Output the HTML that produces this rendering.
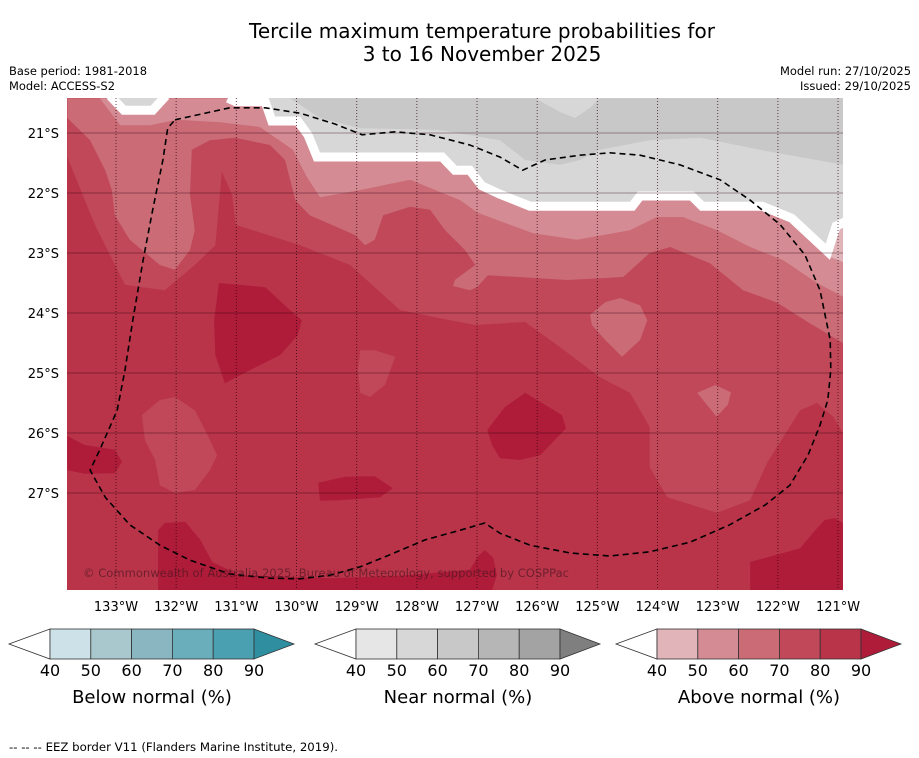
<!DOCTYPE html>
<html><head><meta charset="utf-8"><style>
html,body{margin:0;padding:0;background:#fff;}
svg{display:block;font-family:"DejaVu Sans","Liberation Sans",sans-serif;}
</style></head><body>
<svg id="c" width="919" height="758" viewBox="0 0 919 758">
<rect width="919" height="758" fill="#fff"/>
<text x="482" y="38" font-size="20" text-anchor="middle">Tercile maximum temperature probabilities for</text>
<text x="482" y="61" font-size="20" text-anchor="middle">3 to 16 November 2025</text>
<text x="9" y="75" font-size="11.6" textLength="138" lengthAdjust="spacingAndGlyphs">Base period: 1981-2018</text>
<text x="9" y="90" font-size="11.6" textLength="106" lengthAdjust="spacingAndGlyphs">Model: ACCESS-S2</text>
<text x="780" y="75" font-size="11.6" textLength="131" lengthAdjust="spacingAndGlyphs">Model run: 27/10/2025</text>
<text x="800" y="90" font-size="11.6" textLength="111" lengthAdjust="spacingAndGlyphs">Issued: 29/10/2025</text>
<defs><clipPath id="mapclip"><rect x="67" y="98" width="776" height="492"/></clipPath></defs>
<g id="map" clip-path="url(#mapclip)"></g>
<g id="axes"></g>
<g id="legends"></g>
<text x="9" y="751" font-size="11.6" textLength="329" lengthAdjust="spacingAndGlyphs">--  --  -- EEZ border V11 (Flanders Marine Institute, 2019).</text>
</svg>
<script>
const lonTicks=[133,132,131,130,129,128,127,126,125,124,123,122,121];
const latTicks=[21,22,23,24,25,26,27];
const legendTicks=[40,50,60,70,80,90];
const belowColors=["#cde2e8","#a8c8cd","#8ab6c2","#6aadbb","#4a9fb0","#2f8ea0"];
const nearColors=["#e6e6e6","#d7d7d7","#c8c8c8","#b6b6b6","#a3a3a3","#7f7f7f"];
const aboveColors=["#e0b4b9","#d58b93","#ca6b76","#c04858","#b93449","#ae1c39"];
// contour polygons [lonW, latS]
const above7080=[[133.81,21.40],[133.35,22.53],[132.85,23.53],[132.19,23.62],[131.69,23.20],[131.35,22.87],[131.24,21.65],[131.07,22.03],[131.01,22.53],[129.94,22.87],[129.11,23.20],[128.28,23.95],[127.45,24.12],[127.03,24.20],[126.20,24.15],[125.62,24.57],[124.96,25.07],[124.46,25.33],[124.13,25.90],[124.13,26.57],[123.84,27.07],[123.01,27.33],[122.46,27.12],[122.18,26.50],[121.63,25.62],[121.35,25.50],[121.08,25.73],[120.92,26.00],[120.92,20.42],[133.81,20.42]];
const above7080IslandA=[[132.27,25.45],[132.02,25.40],[131.69,25.62],[131.52,25.95],[131.32,26.37],[131.44,26.62],[131.69,26.95],[132.02,27.00],[132.27,26.87],[132.35,26.45],[132.52,26.12],[132.57,25.70]];
const above7080IslandB=[[128.94,24.62],[128.70,24.62],[128.36,24.73],[128.53,25.20],[128.78,25.40],[128.94,25.33],[128.98,24.95]];
const above6070=[[133.81,20.75],[133.43,21.12],[133.18,21.62],[133.07,21.95],[133.02,22.37],[132.77,22.78],[132.27,23.20],[132.02,23.28],[131.77,22.95],[131.69,22.62],[131.77,22.03],[131.74,21.28],[131.44,21.12],[131.02,21.08],[130.44,21.20],[130.19,21.45],[130.02,22.12],[129.78,22.37],[129.03,22.70],[128.86,22.87],[128.70,22.78],[128.56,22.37],[128.11,22.23],[127.78,22.28],[127.53,22.62],[127.20,22.95],[127.03,23.20],[127.37,23.45],[127.40,23.55],[127.12,23.62],[127.00,23.57],[126.82,23.37],[125.50,23.45],[124.57,23.40],[124.13,23.00],[123.79,22.90],[123.13,23.17],[122.58,23.62],[122.01,23.83],[121.47,24.17],[120.92,24.50],[120.92,20.42],[133.81,20.42]];
const above6070IslandA=[[125.12,24.03],[124.87,23.82],[124.62,23.75],[124.29,23.87],[124.17,24.12],[124.29,24.45],[124.59,24.73],[124.87,24.45],[125.09,24.20]];
const above6070IslandB=[[123.34,25.33],[123.04,25.20],[122.78,25.32],[122.83,25.53],[123.02,25.73]];
const above5060=[[133.27,20.42],[132.93,20.87],[132.43,20.87],[131.99,20.78],[131.27,20.82],[130.61,20.90],[130.06,21.28],[129.83,21.73],[129.61,22.07],[128.94,21.95],[128.11,21.78],[127.28,22.12],[126.99,22.33],[126.07,22.67],[125.34,22.78],[124.46,22.62],[124.01,22.40],[123.58,22.40],[123.01,22.62],[122.46,22.90],[121.91,23.12],[121.35,23.50],[120.92,23.73],[120.92,20.42]];
const above4050=[[121.72,22.45],[121.22,23.03],[120.92,23.15],[120.92,22.53]];
const above90A=[[131.29,23.50],[130.52,23.57],[130.11,23.95],[129.91,24.12],[129.98,24.37],[130.27,24.70],[130.77,24.95],[131.19,25.17],[131.35,24.70],[131.37,24.12]];
const above90B=[[133.81,26.05],[133.52,26.20],[133.02,26.28],[132.90,26.48],[133.02,26.67],[133.52,26.68],[133.81,26.62]];
const above90C=[[129.64,26.83],[129.19,26.73],[128.70,26.72],[128.40,26.92],[128.61,27.07],[129.28,27.12],[129.61,27.13]];
const above90D=[[126.20,25.33],[125.59,25.70],[125.52,25.92],[125.95,26.37],[126.29,26.45],[126.62,26.42],[126.75,26.20],[126.83,25.95],[126.54,25.57]];
const above90E=[[132.30,28.62],[132.30,27.62],[132.19,27.50],[131.85,27.48],[131.60,27.78],[131.40,28.15],[130.94,28.37],[129.44,28.42],[128.28,28.38],[127.12,28.28],[126.98,28.05],[126.87,27.95],[126.73,28.08],[126.67,28.37],[126.75,28.62]];
const above90F=[[122.46,28.62],[122.46,28.15],[121.63,27.92],[121.38,27.62],[121.22,27.45],[121.05,27.42],[120.92,27.50],[120.92,28.62]];
const nearEdge=[[131.14,20.42],[131.01,20.48],[130.52,20.48],[130.41,20.80],[129.98,20.80],[129.81,21.03],[129.66,21.40],[127.58,21.40],[127.37,21.62],[127.12,21.62],[126.92,21.88],[126.62,22.02],[126.12,22.22],[124.42,22.22],[124.29,22.05],[123.43,22.05],[123.26,22.22],[122.26,22.22],[121.77,22.42],[121.17,22.98],[121.03,22.55],[120.88,22.48]];
const nearNotch=[[133.10,20.38],[132.87,20.62],[132.39,20.62],[132.17,20.38]];
const near6070=[[130.11,20.42],[129.94,20.53],[129.61,20.75],[128.94,20.92],[127.62,20.95],[126.62,21.12],[126.20,21.45],[125.62,21.53],[125.29,21.45],[124.96,21.28],[124.13,21.12],[123.29,21.08],[122.30,21.28],[120.92,21.53],[120.92,20.42]];
const near5060Spot=[[126.04,20.42],[125.62,20.65],[125.37,20.75],[125.12,20.58],[124.96,20.42]];
const eezLine=[[132.02,20.78],[131.11,20.58],[130.52,20.58],[129.94,20.67],[129.36,20.85],[128.91,21.03],[128.36,20.98],[127.78,21.03],[127.12,21.20],[126.62,21.40],[126.24,21.62],[125.87,21.45],[125.29,21.37],[124.79,21.33],[124.29,21.37],[123.63,21.53],[122.96,21.78],[122.46,22.12],[121.96,22.53],[121.55,23.03],[121.30,23.62],[121.13,24.45],[121.12,24.95],[121.17,25.45],[121.30,25.87],[121.50,26.37],[121.80,26.87],[122.21,27.20],[122.80,27.53],[123.46,27.82],[124.13,27.98],[124.79,28.05],[125.45,28.00],[126.12,27.87],[126.62,27.67],[126.87,27.50],[127.28,27.62],[127.86,27.78],[128.45,28.03],[128.94,28.23],[129.44,28.37],[129.94,28.43],[130.44,28.42],[131.11,28.35],[131.77,28.12],[132.27,27.87],[132.77,27.53],[133.18,27.07],[133.43,26.62],[133.27,26.28],[132.98,25.62],[132.85,24.95],[132.72,24.12],[132.55,23.12],[132.39,22.28],[132.22,21.45],[132.14,20.92],[132.02,20.78]];

const NS='http://www.w3.org/2000/svg';
function xScale(lonW){return 116+(133-lonW)*60.17;}
function yScale(latS){return 133+(latS-21)*60;}
function pts(a){return a.map(p=>xScale(p[0]).toFixed(1)+','+yScale(p[1]).toFixed(1)).join(' ');}
function mk(tag,attrs,parent){const e=document.createElementNS(NS,tag);for(const k in attrs)e.setAttribute(k,attrs[k]);parent.appendChild(e);return e;}
const map=document.getElementById('map');
const bg=mk('rect',{x:67,y:98,width:776,height:492,fill:aboveColors[4]},map);


function poly(a,fill,name){const e=mk('polygon',{points:pts(a),fill:fill},map);


return e;}
poly(above7080,aboveColors[3],'above-70-80-region');
poly(above7080IslandA,aboveColors[3],'above-70-80-patch');
poly(above7080IslandB,aboveColors[3],'above-70-80-patch');
poly(above6070,aboveColors[2],'above-60-70-region');
poly(above6070IslandA,aboveColors[2],'above-60-70-patch');
poly(above6070IslandB,aboveColors[2],'above-60-70-patch');
poly(above5060,aboveColors[1],'above-50-60-region');
poly(above4050,aboveColors[0],'above-40-50-region');
[above90A,above90B,above90C,above90D,above90E,above90F].forEach(a=>poly(a,aboveColors[5],'above-90-patch'));
const nearPoly=nearEdge.concat([[120.88,20.38],[131.14,20.38]]);
poly(nearPoly,nearColors[1],'near-50-60-region');
poly(near6070,nearColors[2],'near-60-70-region');
poly(near5060Spot,nearColors[1],'near-50-60-spot');
const wl=mk('polyline',{points:pts(nearEdge),fill:'none',stroke:'#fff','stroke-width':9,'stroke-linejoin':'miter'},map);


const wn=mk('polyline',{points:pts(nearNotch),fill:'#d7d7d7',stroke:'#fff','stroke-width':9},map);


// grid
lonTicks.forEach(l=>{const g=mk('line',{x1:xScale(l),x2:xScale(l),y1:98,y2:590,stroke:'rgba(40,0,10,0.7)','stroke-width':1,'stroke-dasharray':'1,2'},map);

});
latTicks.forEach(l=>{const g=mk('line',{x1:67,x2:843,y1:yScale(l),y2:yScale(l),stroke:'rgba(40,0,10,0.38)','stroke-width':1},map);

});
const eez=mk('polyline',{points:pts(eezLine),fill:'none',stroke:'#000','stroke-width':1.6,'stroke-dasharray':'6,4'},map);


const cp=mk('text',{x:83,y:577,'font-size':11.6,fill:'rgba(70,20,30,0.65)',textLength:486,lengthAdjust:'spacingAndGlyphs'},map);
cp.textContent='© Commonwealth of Australia 2025, Bureau of Meteorology, supported by COSPPac';


// axes labels
const axes=document.getElementById('axes');
lonTicks.forEach(l=>{const t=mk('text',{x:xScale(l),y:611,'font-size':13,'text-anchor':'middle'},axes);t.textContent=l+'°W';

});
latTicks.forEach(l=>{const t=mk('text',{x:59,y:yScale(l)+5,'font-size':13,'text-anchor':'end'},axes);t.textContent=l+'°S';

});
// legends
const lg=document.getElementById('legends');
function legend(x0,colors,title,name){
 const g=mk('g',{},lg);
 
 
 const w=40.8,y0=629,h=30,n=legendTicks.length-1;
 mk('polygon',{points:`${x0},${y0} ${x0-41},${y0+h/2} ${x0},${y0+h}`,fill:'#fff',stroke:'#333','stroke-width':0.8},g);
 for(let i=0;i<n;i++){mk('rect',{x:x0+i*w,y:y0,width:w,height:h,fill:colors[i],stroke:'#333','stroke-width':0.8},g);}
 const xe=x0+n*w;
 mk('polygon',{points:`${xe},${y0} ${xe+40},${y0+h/2} ${xe},${y0+h}`,fill:colors[5],stroke:'#333','stroke-width':0.8},g);
 legendTicks.forEach((v,i)=>{const t=mk('text',{x:x0+i*w,y:676,'font-size':16,'text-anchor':'middle'},g);t.textContent=v;
 
 });
 const tt=mk('text',{x:x0+n*w/2,y:703,'font-size':18,'text-anchor':'middle'},g);tt.textContent=title;
 
 
}
legend(50,belowColors,'Below normal (%)','below-normal-legend');
legend(356,nearColors,'Near normal (%)','near-normal-legend');
legend(657,aboveColors,'Above normal (%)','above-normal-legend');
</script>
</body></html>
